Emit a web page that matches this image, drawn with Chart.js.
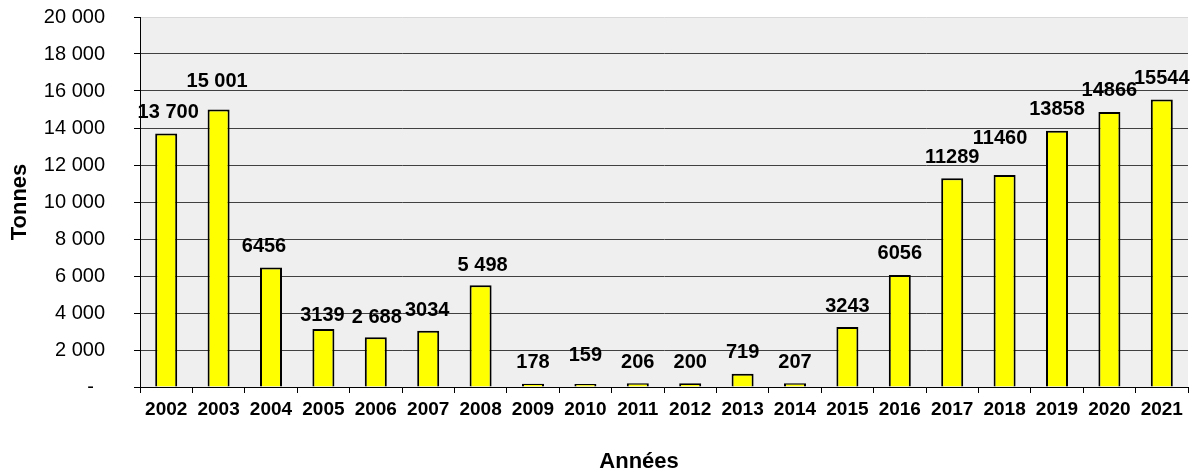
<!DOCTYPE html>
<html><head><meta charset="utf-8">
<script src="https://cdn.jsdelivr.net/npm/chart.js@4.4.1/dist/chart.umd.min.js"></script>
<style>html,body{margin:0;padding:0;background:#fff}#wrap{width:1199px;height:475px;position:relative}</style>
</head><body><div id="wrap"><canvas id="c" width="1199" height="475"></canvas></div>
<script>
const years = ['2002','2003','2004','2005','2006','2007','2008','2009','2010','2011','2012','2013','2014','2015','2016','2017','2018','2019','2020','2021'];
const tonnes = [13700,15001,6456,3139,2688,3034,5498,178,159,206,200,719,207,3243,6056,11289,11460,13858,14866,15544];
const valueLabels = ['13 700','15 001','6456','3139','2 688','3034','5 498','178','159','206','200','719','207','3243','6056','11289','11460','13858','14866','15544'];
const yTickLabels = ['-  ','2 000','4 000','6 000','8 000','10 000','12 000','14 000','16 000','18 000','20 000'];
const yAxisTitle = 'Tonnes';
const xAxisTitle = 'Années';

const FONT = "'Liberation Sans', Arial, sans-serif";
// label placement tweaks (dx, dy above bar top), as placed in the original
const labelShift = {0:[2,21],1:[-1.5,27.5],2:[-7,21],3:[-1,13.5],4:[1,20],5:[-1,20],6:[2,19.5],8:[0,29],16:[-4.5,36.5]};

const bgPlugin = {
  id: 'bg',
  beforeDraw(chart) {
    const {ctx, chartArea: a} = chart;
    ctx.save();
    ctx.fillStyle = '#efefef';
    ctx.fillRect(a.left, a.top, a.right - a.left, a.bottom - a.top);
    ctx.restore();
  }
};
const labelPlugin = {
  id: 'vlabels',
  afterDatasetsDraw(chart) {
    const {ctx} = chart;
    const meta = chart.getDatasetMeta(0);
    ctx.save();
    ctx.font = "bold 20px " + FONT;
    ctx.fillStyle = '#000';
    ctx.textAlign = 'center';
    ctx.textBaseline = 'middle';
    meta.data.forEach((bar, i) => {
      const s = labelShift[i] || [0, 21];
      ctx.fillText(valueLabels[i], bar.x + s[0], bar.y - s[1]);
    });
    // x axis title
    ctx.font = "bold 22px " + FONT;
    ctx.fillText(xAxisTitle, chart.width * 0.533, chart.height - 13);
    ctx.restore();
  }
};

new Chart(document.getElementById('c'), {
  type: 'bar',
  data: {
    labels: years,
    datasets: [{
      data: tonnes,
      backgroundColor: '#ffff00',
      borderColor: '#000000',
      borderWidth: 2,
      borderSkipped: 'bottom',
      barPercentage: 0.42,
      categoryPercentage: 1.0
    }]
  },
  options: {
    responsive: false,
    animation: false,
    events: [],
    layout: {padding: {left: 0, right: 11, top: 17, bottom: 0}},
    plugins: {legend: {display: false}, tooltip: {enabled: false}, title: {display: false}},
    scales: {
      x: {
        offset: true,
        grid: {display: true, drawOnChartArea: false, drawTicks: true, tickLength: 6, color: '#000', offset: true},
        border: {display: true, color: '#000', width: 1},
        ticks: {color: '#000', font: {family: FONT, size: 19, weight: 'bold'}, padding: 5, maxRotation: 0, autoSkip: false},
        afterFit(s) { s.height = 88; s.paddingLeft = 0; s.paddingRight = 0; }
      },
      y: {
        min: 0, max: 20000,
        ticks: {stepSize: 2000, color: '#000', font: {family: FONT, size: 20}, padding: 29,
          callback: (v, i) => yTickLabels[i]},
        grid: {color: (c) => c.tick && c.tick.value === 20000 ? '#d8d8d8' : '#404040', tickColor: '#000', tickLength: 6, drawTicks: true},
        border: {display: true, color: '#000', width: 1},
        title: {display: true, text: yAxisTitle, color: '#000', font: {family: FONT, size: 22, weight: 'bold'}, padding: {top: 7, bottom: 0}},
        afterFit(s) { s.width = 140; s.paddingTop = 0; s.paddingBottom = 0; }
      }
    }
  },
  plugins: [bgPlugin, labelPlugin]
});
</script></body></html>
